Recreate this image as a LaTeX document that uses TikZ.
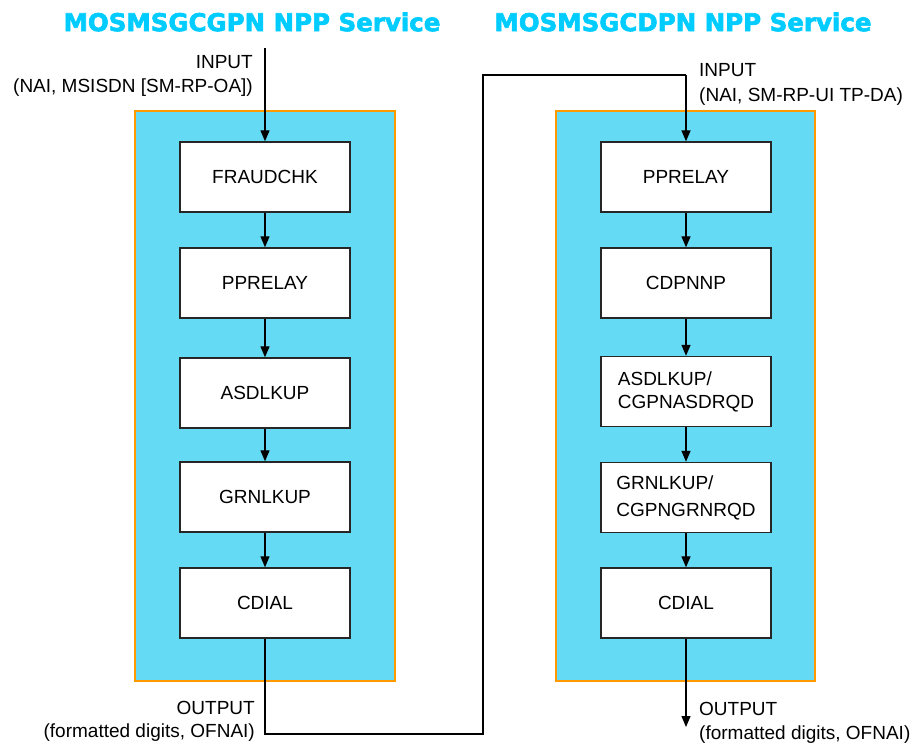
\documentclass[tikz,border=0pt]{standalone}
\usepackage{fontspec}
\setmainfont{Liberation Sans}
\newfontfamily\titlefont[BoldFeatures={FakeBold=2.5}]{DejaVu Sans}
\usetikzlibrary{arrows.meta}
\definecolor{titlecyan}{RGB}{0,204,255}
\definecolor{panelfill}{RGB}{100,218,245}
\definecolor{panelborder}{RGB}{255,153,0}
\begin{document}
\begin{tikzpicture}[x=1pt,y=-1pt,
  panel/.style={draw=panelborder, line width=2pt, fill=panelfill, rectangle, inner sep=0pt},
  stepbox/.style={draw=black!85, line width=1.4pt, fill=white, rectangle, minimum width=170pt, minimum height=70pt, inner sep=0pt, font=\fontsize{19}{23}\selectfont},
  lbl/.style={inner sep=0pt, font=\fontsize{19}{23}\selectfont},
  ttl/.style={inner sep=0pt, text=titlecyan, font=\titlefont\bfseries\fontsize{24.5}{30}\selectfont},
  conn/.style={draw=black, line width=1.3pt},
  arr/.style={conn, -{Triangle[width=9pt,length=11pt]}}
]
\useasboundingbox (0,0) rectangle (912,744);
% titles
\node[ttl] (t1) at (252,22) {MOSMSGCGPN NPP Service};
\node[ttl] (t2) at (683,22) {MOSMSGCDPN NPP Service};
% panels
\node[panel, minimum width=260pt, minimum height=570pt] (LP) at (265,396) {};
\node[panel, minimum width=259pt, minimum height=570pt] (RP) at (685.5,396) {};
% left boxes
\node[stepbox] (L1) at (265,177) {FRAUDCHK};
\node[stepbox] (L2) at (265,283) {PPRELAY};
\node[stepbox] (L3) at (265,393) {ASDLKUP};
\node[stepbox] (L4) at (265,497) {GRNLKUP};
\node[stepbox] (L5) at (265,603) {CDIAL};
% right boxes
\node[stepbox] (R1) at (686,177) {PPRELAY};
\node[stepbox] (R2) at (686,283) {CDPNNP};
\node[stepbox, align=left] (R3) at (686,391.5) {ASDLKUP/\\CGPNASDRQD};
\node[stepbox, align=left, font=\fontsize{19}{27}\selectfont] (R4) at (686,497.5) {GRNLKUP/\\CGPNGRNRQD};
\node[stepbox] (R5) at (686,603) {CDIAL};
% labels
\node[lbl, anchor=east] (inL1) at (253,62) {INPUT};
\node[lbl, anchor=east] (inL2) at (253,88) {(NAI, MSISDN [SM-RP-OA])};
\node[lbl, anchor=west] (inR1) at (699,70) {INPUT};
\node[lbl, anchor=west] (inR2) at (699,97) {(NAI, SM-RP-UI TP-DA)};
\node[lbl, anchor=east] (outL1) at (255,708) {OUTPUT};
\node[lbl, anchor=east] (outL2) at (255,733) {(formatted digits, OFNAI)};
\node[lbl, anchor=west] (outR1) at (699,709) {OUTPUT};
\node[lbl, anchor=west] (outR2) at (699,735) {(formatted digits, OFNAI)};
% coordinates
\coordinate (inL) at (265,48);
\coordinate (c1) at (265,734);
\coordinate (c2) at (483,734);
\coordinate (c3) at (483,75);
\coordinate (c4) at (686,75);
\coordinate (outR) at (686,727);
% connectors
\draw[arr] (inL) -- (L1.north);
\draw[arr] (L1) -- (L2);
\draw[arr] (L2) -- (L3);
\draw[arr] (L3) -- (L4);
\draw[arr] (L4) -- (L5);
\draw[conn] (L5.south) -- (c1) -- (c2) -- (c3) -- (c4);
\draw[arr] (c4) -- (R1.north);
\draw[arr] (R1) -- (R2);
\draw[arr] (R2) -- (R3);
\draw[arr] (R3) -- (R4);
\draw[arr] (R4) -- (R5);
\draw[arr] (R5) -- (outR);
\end{tikzpicture}
\end{document}
